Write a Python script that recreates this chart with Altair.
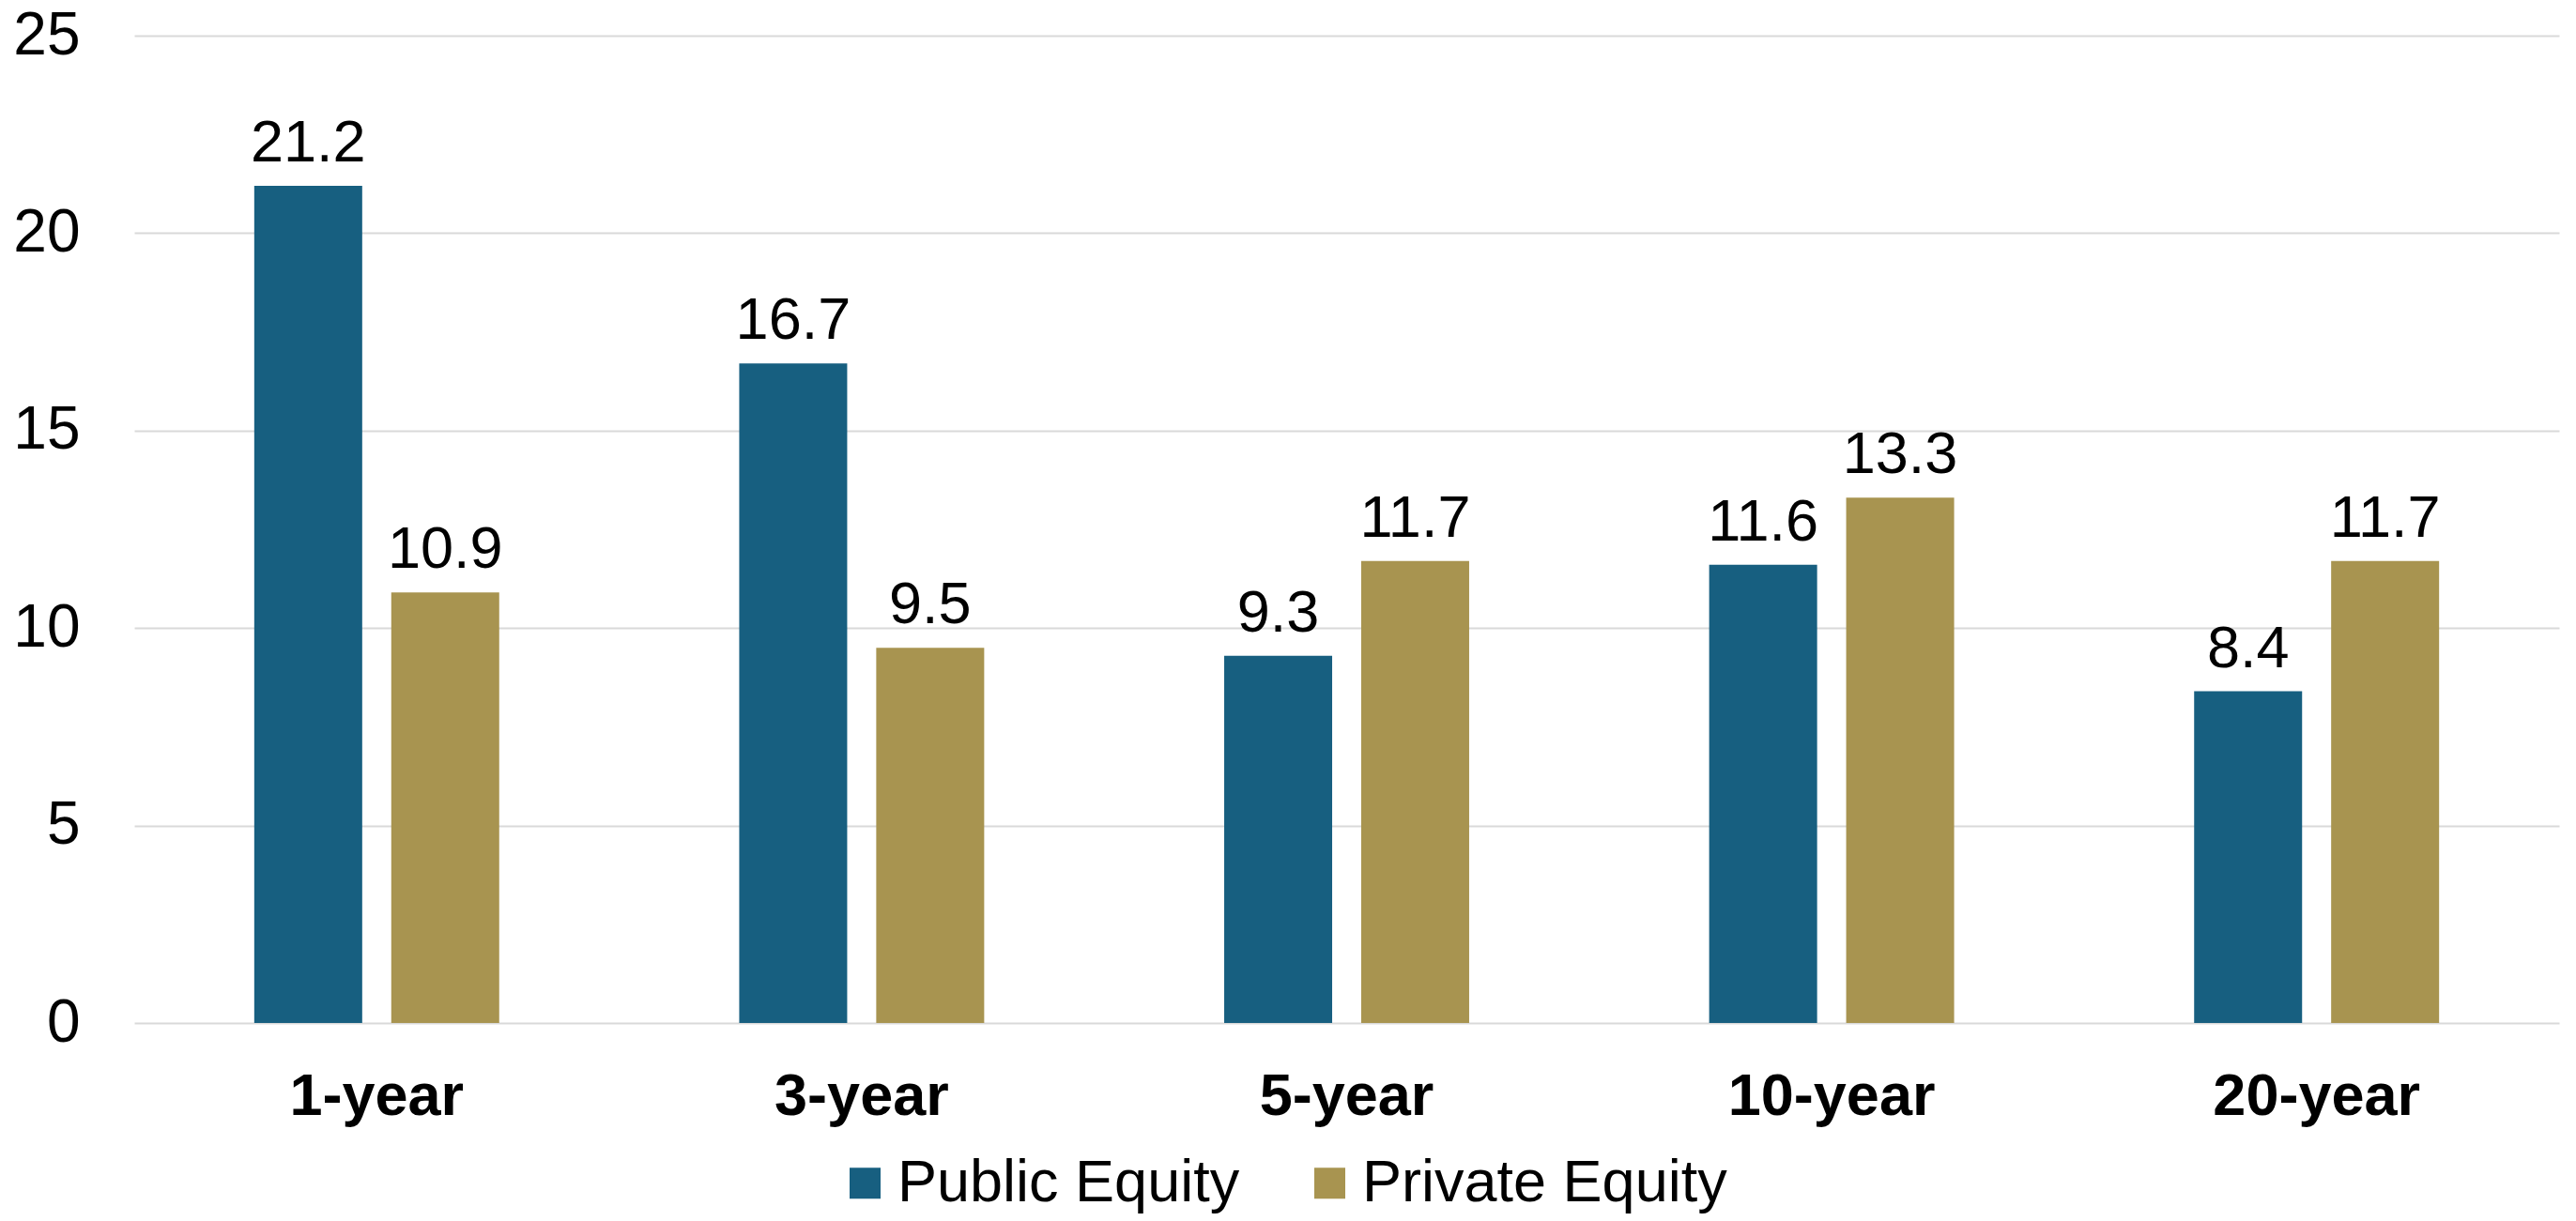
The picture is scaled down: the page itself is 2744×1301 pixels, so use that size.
import altair as alt
import pandas as pd

periods = ["1-year", "3-year", "5-year", "10-year", "20-year"]
public_equity = [21.2, 16.7, 9.3, 11.6, 8.4]
private_equity = [10.9, 9.5, 11.7, 13.3, 11.7]
series_names = ["Public Equity", "Private Equity"]
series_colors = ["#175F80", "#A89450"]
y_ticks = [0, 5, 10, 15, 20, 25]

FONT = "Liberation Sans"

rows = []
for p, a, b in zip(periods, public_equity, private_equity):
    rows.append({"period": p, "series": series_names[0], "value": a})
    rows.append({"period": p, "series": series_names[1], "value": b})
df = pd.DataFrame(rows)

x_enc = alt.X(
    "period:N",
    sort=periods,
    title=None,
    scale=alt.Scale(paddingInner=0.435, paddingOuter=0.2175),
    axis=alt.Axis(
        labelFontSize=63, labelFontWeight="bold", labelFont=FONT, labelColor="#000000",
        ticks=False, domain=False, grid=False, labelPadding=47, labelAngle=0, labelLimit=600,
    ),
)
xo_enc = alt.XOffset("series:N", sort=series_names,
                     scale=alt.Scale(paddingInner=0.212, paddingOuter=0.106))
y_enc = alt.Y(
    "value:Q",
    title=None,
    scale=alt.Scale(domain=[0, 25], nice=False),
    axis=alt.Axis(
        values=y_ticks, labelFontSize=64, labelFont=FONT, labelColor="#000000",
        ticks=False, domain=False, grid=True, gridColor="#D9D9D9", gridWidth=2,
        labelPadding=58,
    ),
)

base = alt.Chart(df).encode(x=x_enc, xOffset=xo_enc, y=y_enc)

bars = base.mark_bar().encode(
    color=alt.Color(
        "series:N",
        sort=series_names,
        scale=alt.Scale(domain=series_names, range=series_colors),
        legend=alt.Legend(
            title=None, orient="none", legendX=747, legendY=1191,
            direction="horizontal", symbolType="square", symbolSize=1089,
            symbolStrokeWidth=0, labelFontSize=63, labelFont=FONT, labelColor="#000000",
            labelOffset=3, columnPadding=64, labelLimit=1000, padding=0,
        ),
    )
)

labels = base.mark_text(
    baseline="alphabetic", dy=-26, fontSize=63, font=FONT, color="#000000"
).encode(text=alt.Text("value:Q", format=".1f"))

chart = (
    alt.layer(bars, labels)
    .properties(
        width=2583,
        height=1052,
        background="#FFFFFF",
        autosize=alt.AutoSizeParams(type="none"),
        padding={"left": 135, "top": 30, "right": 10, "bottom": 203},
    )
    .configure_view(strokeWidth=0, stroke="transparent")
)

chart.save("out.html", embed_options={"renderer": "svg", "actions": False})
